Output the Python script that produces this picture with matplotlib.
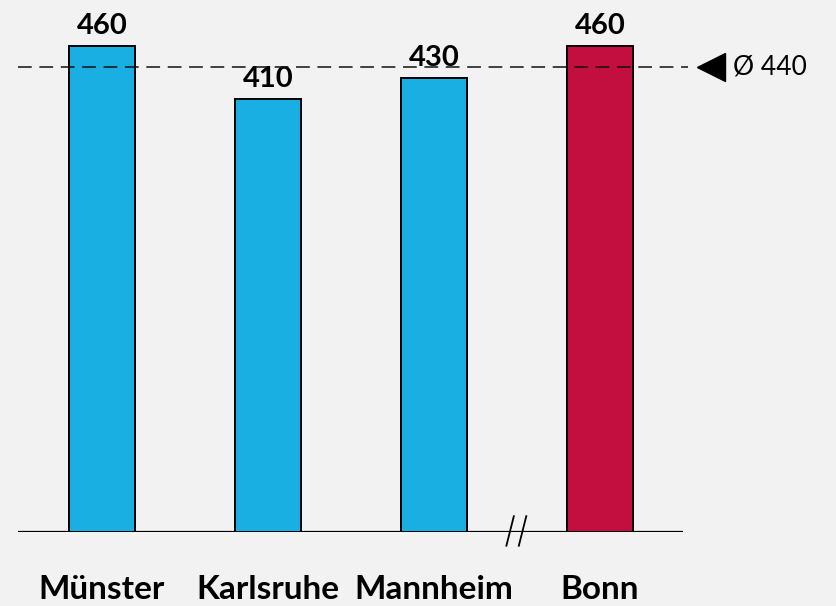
import matplotlib
matplotlib.use("Agg")
import matplotlib.pyplot as plt

cities = ["Münster", "Karlsruhe", "Mannheim", "Bonn"]
values = [460, 410, 430, 460]
colors = ["#19AFE2", "#19AFE2", "#19AFE2", "#C20F3F"]
average = 440

plt.rcParams["font.family"] = ["Lato", "DejaVu Sans"]
bg = "#F2F2F2"

fig = plt.figure(figsize=(8.36, 6.06), dpi=100, facecolor=bg)
ax = fig.add_axes([18 / 836, 74 / 606, 665 / 836, 528 / 606])
ax.set_facecolor(bg)

x = list(range(len(cities)))
ax.bar(x, values, width=0.4, color=colors, edgecolor="black", linewidth=1.4, zorder=2)
ax.set_xlim(-0.506, 3.5)
ax.set_ylim(0, 500)

for xi, v in zip(x, values):
    ax.annotate(str(v), (xi, v), xytext=(0, 5), textcoords="offset points",
                ha="center", va="bottom", fontsize=21, fontweight="bold")

# average line
ax.plot([-0.506, 3.53], [average, average], color="#111111", lw=1.1,
        linestyle=(0, (9, 5)), clip_on=False, zorder=3)
ax.plot([3.67], [average], marker="<", markersize=20, color="black",
        clip_on=False, zorder=3)
ax.text(3.80, average, f"Ø {average}", fontsize=19, va="center", ha="left")

# baseline with break mark
ax.axhline(0, color="black", lw=1.6, zorder=1)
for dx in (-0.04, 0.035):
    ax.plot([2.476 + dx, 2.476 + dx + 0.045], [-13, 15], color="black",
            lw=1.3, clip_on=False, zorder=3)

ax.set_xticks(x)
ax.set_xticklabels(cities, fontsize=24, fontweight="bold")
ax.tick_params(axis="x", length=0, pad=31)
ax.set_yticks([])
for s in ax.spines.values():
    s.set_visible(False)

fig.savefig("out.png", dpi=100, facecolor=bg)
